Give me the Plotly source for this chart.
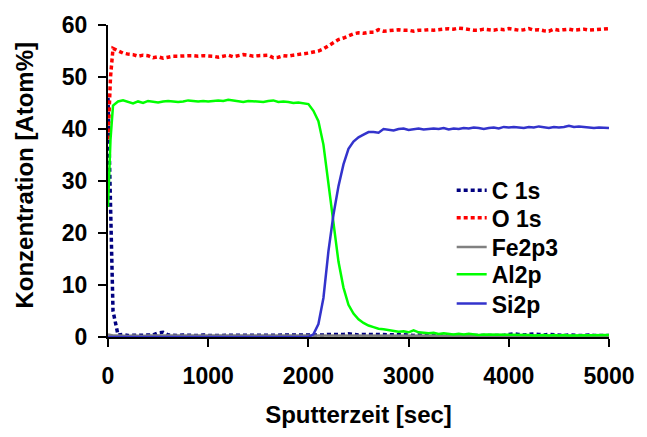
import plotly.graph_objects as go

# Sputter time (s)
t = [0, 25, 50,
     100, 150, 200, 250, 300, 350, 400, 450, 500, 550, 600, 650, 700, 750, 800, 850, 900, 950,
     1000, 1050, 1100, 1150, 1200, 1250, 1300, 1350, 1400, 1450, 1500, 1550, 1600, 1650, 1700, 1750, 1800, 1850, 1900, 1950,
     2000, 2050, 2100, 2150, 2200, 2250, 2300, 2350, 2400, 2450, 2500, 2550, 2600, 2650, 2700, 2750, 2800, 2850, 2900, 2950,
     3000, 3050, 3100, 3150, 3200, 3250, 3300, 3350, 3400, 3450, 3500, 3550, 3600, 3650, 3700, 3750, 3800, 3850, 3900, 3950,
     4000, 4050, 4100, 4150, 4200, 4250, 4300, 4350, 4400, 4450, 4500, 4550, 4600, 4650, 4700, 4750, 4800, 4850, 4900, 4950,
     5000]

c1s = [46, 22, 5,
       0.4, 0.5, 0.3, 0.3, 0.4, 0.3, 0.3, 0.4, 0.8, 0.9, 0.4, 0.3, 0.3, 0.4, 0.3, 0.3, 0.3, 0.4,
       0.3, 0.3, 0.4, 0.3, 0.3, 0.3, 0.4, 0.3, 0.3, 0.3, 0.3, 0.4, 0.3, 0.3, 0.3, 0.3, 0.4, 0.3, 0.3, 0.3,
       0.3, 0.3, 0.3, 0.4, 0.5, 0.5, 0.4, 0.5, 0.6, 0.5, 0.4, 0.5, 0.5, 0.4, 0.5, 0.4, 0.4, 0.5, 0.4, 0.4,
       0.4, 0.3, 0.4, 0.3, 0.3, 0.4, 0.3, 0.3, 0.3, 0.4, 0.3, 0.3, 0.3, 0.3, 0.3, 0.4, 0.3, 0.3, 0.3, 0.3,
       0.5, 0.6, 0.5, 0.4, 0.5, 0.6, 0.5, 0.4, 0.5, 0.4, 0.3, 0.3, 0.4, 0.3, 0.3, 0.3, 0.4, 0.3, 0.3, 0.3,
       0.3]

o1s = [38, 50, 55.5,
       55.0, 54.6, 54.4, 54.3, 54.0, 54.2, 54.1, 53.7, 53.9, 53.6, 53.8, 54.0, 54.0, 54.1, 54.1, 54.1, 54.0, 54.1,
       54.1, 54.0, 53.8, 54.0, 54.2, 53.9, 54.1, 54.3, 54.2, 54.0, 54.1, 54.2, 54.2, 53.7, 53.8, 54.1, 54.0, 54.2, 54.3, 54.5,
       54.6, 54.8, 55.0, 55.4, 56.0, 56.7, 57.2, 57.5, 57.9, 58.3, 58.5, 58.4, 58.6, 58.6, 59.1, 58.8, 58.9, 59.0, 59.1, 59.0,
       59.0, 58.8, 59.0, 59.0, 59.1, 59.0, 59.1, 59.2, 59.3, 59.2, 59.4, 59.3, 59.1, 59.0, 59.0, 59.2, 59.1, 59.0, 59.2, 59.1,
       59.3, 59.2, 59.0, 59.1, 59.3, 59.0, 59.1, 58.9, 58.8, 59.2, 59.0, 59.1, 59.2, 59.0, 59.1, 59.2, 59.0, 59.1, 59.2, 59.2,
       59.3]

fe2p3 = [0.5, 0.4, 0.3,
         0.3, 0.2, 0.2, 0.3, 0.2, 0.2, 0.3, 0.3, 0.2, 0.2, 0.3, 0.2, 0.2, 0.2, 0.3, 0.2, 0.2, 0.3,
         0.2, 0.2, 0.2, 0.3, 0.2, 0.2, 0.2, 0.3, 0.3, 0.2, 0.2, 0.2, 0.3, 0.2, 0.2, 0.3, 0.3, 0.2, 0.2, 0.2,
         0.2, 0.2, 0.2, 0.2, 0.2, 0.2, 0.2, 0.2, 0.2, 0.2, 0.2, 0.2, 0.2, 0.2, 0.2, 0.2, 0.2, 0.2, 0.2, 0.2,
         0.2, 0.2, 0.2, 0.2, 0.2, 0.2, 0.2, 0.2, 0.2, 0.2, 0.2, 0.2, 0.2, 0.2, 0.2, 0.2, 0.2, 0.2, 0.2, 0.2,
         0.2, 0.2, 0.2, 0.2, 0.2, 0.2, 0.2, 0.2, 0.2, 0.2, 0.2, 0.2, 0.2, 0.2, 0.2, 0.2, 0.2, 0.2, 0.2, 0.2,
         0.2]

al2p = [25, 38, 44.5,
        45.3, 45.5, 45.2, 44.9, 45.3, 45.0, 45.4, 45.2, 45.1, 45.3, 45.4, 45.3, 45.2, 45.3, 45.5, 45.4, 45.3, 45.4,
        45.3, 45.4, 45.5, 45.4, 45.6, 45.5, 45.3, 45.2, 45.4, 45.3, 45.3, 45.2, 45.4, 45.5, 45.2, 45.3, 45.2, 45.0, 45.1, 45.0,
        44.8, 43.5, 41.5, 37.0, 29.5, 21.5, 14.5, 9.5, 6.2, 4.5, 3.4, 2.7, 2.2, 1.9, 1.6, 1.5, 1.3, 1.2, 1.0, 1.1,
        0.9, 1.3, 0.9, 0.8, 0.7, 0.8, 0.6, 0.7, 0.6, 0.5, 0.6, 0.5, 0.6, 0.5, 0.4, 0.5, 0.5, 0.4, 0.5, 0.4,
        0.5, 0.4, 0.4, 0.5, 0.4, 0.3, 0.4, 0.4, 0.3, 0.4, 0.3, 0.4, 0.3, 0.3, 0.4, 0.3, 0.3, 0.4, 0.3, 0.4,
        0.4]

si2p = [0, 0, 0,
        0, 0, 0, 0, 0, 0, 0, 0, 0, 0, 0, 0, 0, 0, 0, 0, 0, 0,
        0, 0, 0, 0, 0, 0, 0, 0, 0, 0, 0, 0, 0, 0, 0, 0, 0, 0, 0, 0,
        0, 0.5, 2.5, 7.5, 16.5, 23.5, 29.0, 33.2, 36.2, 37.6, 38.4, 38.9, 39.4, 39.4, 39.3, 40.0, 39.9, 39.7, 40.0, 40.1,
        39.8, 40.0, 40.1, 39.9, 40.0, 40.1, 40.0, 40.2, 39.9, 40.1, 40.0, 40.2, 40.1, 40.3, 40.2, 40.0, 40.2, 40.3, 40.1, 40.4,
        40.3, 40.4, 40.3, 40.2, 40.4, 40.3, 40.5, 40.3, 40.2, 40.4, 40.3, 40.4, 40.6, 40.4, 40.5, 40.4, 40.3, 40.2, 40.3, 40.2,
        40.2]

x_ticks = [0, 1000, 2000, 3000, 4000, 5000]
y_ticks = [0, 10, 20, 30, 40, 50, 60]

FONT = "Liberation Sans, Arial, sans-serif"

series = [
    ("C 1s", c1s, dict(color="#000080", width=3.5, dash="4px,3px"), "legend"),
    ("O 1s", o1s, dict(color="#FF0000", width=3.5, dash="4px,3px"), "legend2"),
    ("Fe2p3", fe2p3, dict(color="#808080", width=2.5), "legend3"),
    ("Al2p", al2p, dict(color="#00FF00", width=2.5), "legend4"),
    ("Si2p", si2p, dict(color="#3333CC", width=2.5), "legend5"),
]

fig = go.Figure()
for name, vals, line, lg in series:
    fig.add_trace(go.Scatter(x=t, y=vals, name=name, mode="lines", line=line,
                             cliponaxis=False, legend=lg))

# one legend per entry, stacked to the right of the Al/Si crossover
legend_y = [0.470, 0.382, 0.288, 0.201, 0.107]
legend_common = dict(x=0.686, xanchor="left", yanchor="middle", bgcolor="rgba(0,0,0,0)",
                     borderwidth=0, font=dict(family=FONT, size=23, color="black", weight="bold"))
layout_legends = {}
for i, y in enumerate(legend_y):
    key = "legend" if i == 0 else f"legend{i + 1}"
    layout_legends[key] = dict(y=y, **legend_common)

tick_font = dict(family=FONT, size=23, color="black", weight="bold")
title_font = dict(family=FONT, size=24, color="black", weight="bold")

fig.update_layout(
    width=647, height=437,
    margin=dict(l=108, r=37, t=18, b=100),
    paper_bgcolor="white", plot_bgcolor="white",
    showlegend=True,
    **layout_legends,
    xaxis=dict(range=[0, 5000], tickvals=x_ticks, ticks="outside", ticklen=8, tickwidth=2,
               tickcolor="black", showline=True, linewidth=2, linecolor="black",
               showgrid=False, zeroline=False, tickfont=tick_font, ticklabelstandoff=9,
               layer="below traces",
               title=dict(text="Sputterzeit [sec]", font=title_font, standoff=19)),
    yaxis=dict(range=[0, 60], tickvals=y_ticks, ticks="outside", ticklen=8, tickwidth=2,
               tickcolor="black", showline=True, linewidth=2, linecolor="black",
               showgrid=False, zeroline=False, tickfont=tick_font, ticklabelstandoff=6,
               layer="below traces"),
    annotations=[dict(text="Konzentration [Atom%]", textangle=-90, font=title_font,
                      xref="paper", yref="paper", x=-0.166, y=0.520,
                      xanchor="center", yanchor="middle", showarrow=False)],
)

fig.write_html("out.html")
